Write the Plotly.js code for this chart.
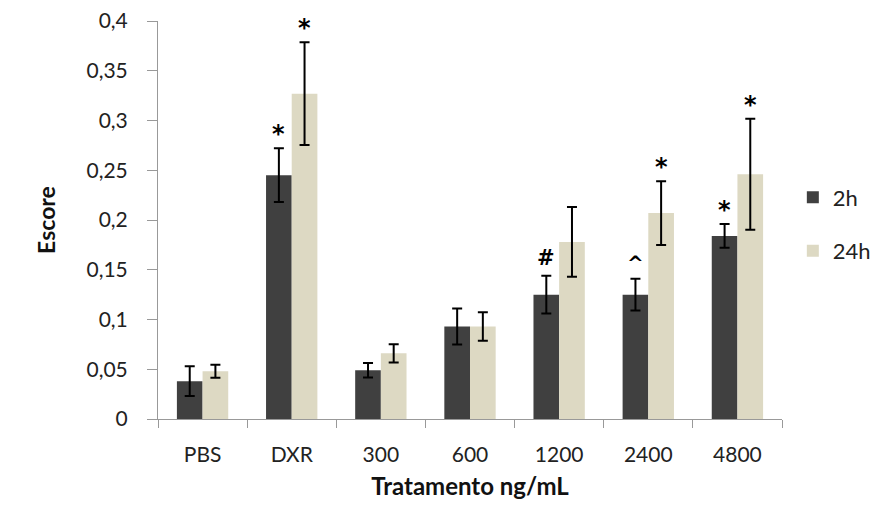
<!DOCTYPE html>
<html>
<head>
<meta charset="utf-8">
<script src="https://cdn.plot.ly/plotly-3.0.1.min.js"></script>
<style>html,body{margin:0;padding:0;background:#fff;}#chart{width:878px;height:509px;}</style>
</head>
<body>
<div id="chart"></div>
<script>
const categories = ['PBS', 'DXR', '300', '600', '1200', '2400', '4800'];
const series2h = [0.038, 0.245, 0.049, 0.093, 0.125, 0.125, 0.184];
const err2h = [0.015, 0.027, 0.0072, 0.018, 0.019, 0.016, 0.012];
const series24h = [0.048, 0.327, 0.066, 0.093, 0.178, 0.207, 0.246];
const err24h = [0.0065, 0.0516, 0.0092, 0.0143, 0.035, 0.032, 0.0557];
const marks2h = ['', '*', '', '', '#', '^', '*'];
const marks24h = ['', '*', '', '', '', '*', '*'];
const yTicks = [0, 0.05, 0.1, 0.15, 0.2, 0.25, 0.3, 0.35, 0.4];

const FONT = 'Lato, "Open Sans", sans-serif';
const MARKFONT = '"DejaVu Sans", sans-serif';
const DARK = '#404040';
const LIGHT = '#DDD9C3';

const errStyle = {type: 'data', visible: true, color: '#000', thickness: 2, width: 5};

const traces = [
  {type: 'bar', name: '2h', x: categories, y: series2h, marker: {color: DARK},
   error_y: Object.assign({array: err2h}, errStyle), legendgroup: 'a'},
  {type: 'bar', name: '24h', x: categories, y: series24h, marker: {color: LIGHT},
   error_y: Object.assign({array: err24h}, errStyle), legendgroup: 'b'}
];

const plotW = 624;
const bargap = 0.424;
const barShift = (1 - bargap) / 4 * plotW / categories.length;

const markSize = {'*': 24, '#': 21, '^': 20};
const markShift = {'*': -2, '#': 4, '^': 2};
const annotations = [];
function addMarks(marks, vals, errs, shift) {
  marks.forEach((m, i) => {
    if (!m) return;
    annotations.push({
      x: i, y: vals[i] + errs[i], xref: 'x', yref: 'y',
      text: '<b>' + m + '</b>', showarrow: false, xanchor: 'center', yanchor: 'bottom',
      xshift: shift, yshift: markShift[m],
      font: {family: MARKFONT, size: markSize[m], color: '#000'}
    });
  });
}
addMarks(marks2h, series2h, err2h, -barShift);
addMarks(marks24h, series24h, err24h, barShift);

const layout = {
  width: 878, height: 509,
  margin: {l: 158, r: 96, t: 21, b: 90, autoexpand: false},
  paper_bgcolor: '#fff', plot_bgcolor: '#fff',
  separators: ',.',
  barmode: 'group', bargap: bargap, bargroupgap: 0,
  font: {family: FONT, size: 21, color: '#222'},
  showlegend: true,
  legend: {xref: 'container', yref: 'container', x: 0.903, y: 0.559, xanchor: 'left', yanchor: 'middle',
           tracegroupgap: 22, font: {family: FONT, size: 22, color: '#222'}, itemwidth: 30},
  xaxis: {
    type: 'category', range: [-0.5, categories.length - 0.5], autorange: false,
    tickson: 'boundaries', ticks: 'outside', ticklen: 8, tickcolor: '#999',
    showline: true, linecolor: '#999', linewidth: 1, showgrid: false, zeroline: false,
    tickfont: {family: FONT, size: 21, color: '#222'}, ticklabelstandoff: 17, tickangle: 0,
    title: {text: '<b>Tratamento ng/mL</b>', font: {family: FONT, size: 24, color: '#111'}, standoff: 12}
  },
  yaxis: {
    range: [0, 0.4], autorange: false, tickvals: yTicks, ticks: 'outside', ticklen: 10, tickcolor: '#999',
    showline: true, linecolor: '#999', linewidth: 1, showgrid: false, zeroline: false,
    tickfont: {family: FONT, size: 21, color: '#222'}, ticklabelstandoff: 15,
    title: {text: '<b>Escore</b>', font: {family: FONT, size: 23, color: '#111'}, standoff: 24}
  },
  annotations: annotations
};

Plotly.newPlot('chart', traces, layout, {displayModeBar: false, staticPlot: true});
</script>
</body>
</html>
